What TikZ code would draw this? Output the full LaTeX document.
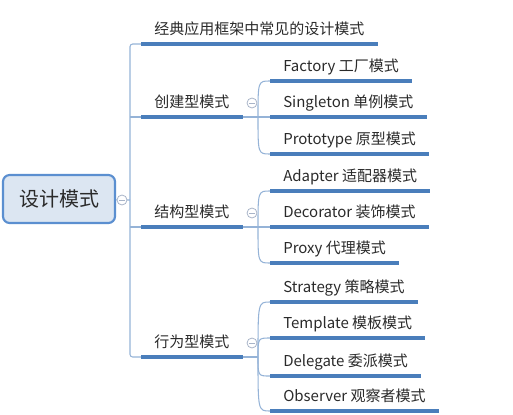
\documentclass[tikz,border=0pt]{standalone}
\usepackage{fontspec}
\setmainfont{Noto Sans CJK SC}
\definecolor{lineblue}{HTML}{4A7EBB}
\definecolor{thinblue}{HTML}{95B3D7}
\definecolor{rootfill}{HTML}{DCE6F2}
\definecolor{rootline}{HTML}{5B8FD0}
\definecolor{txtgray}{HTML}{2A2A2A}
\definecolor{foldgray}{HTML}{A8B4C8}
\tikzset{
	topic/.style={anchor=south west, inner xsep=9.75pt, inner ysep=5.2pt, text height=8pt, text depth=1.5pt, text=txtgray, font=\fontsize{11.25}{13}\selectfont},
	rootbox/.style={draw=rootline, fill=rootfill, line width=1.6pt, rounded corners=5pt, minimum width=84pt, minimum height=36pt, text=txtgray, font=\fontsize{15}{18}\selectfont},
	uline/.style={lineblue, line width=2.6pt},
	thin/.style={thinblue, line width=0.8pt},
	fold/.style={circle, draw=foldgray, fill=white, line width=0.6pt, minimum size=7.5pt, inner sep=0pt,
		path picture={\draw[foldgray, line width=0.6pt] ([xshift=-2pt]path picture bounding box.center) -- ([xshift=2pt]path picture bounding box.center);}}
}
\begin{document}
\begin{tikzpicture}[x=0.75pt, y=-0.75pt]
	\useasboundingbox (0, 0) rectangle (513, 414);
	% root and first level
	\node[rootbox] (root) at (59, 199) {设计模式};
	\coordinate (trunk) at (130, 200);
	\coordinate (hubx) at (258, 0);
	\node[topic] (classic) at (141, 44) {经典应用框架中常见的设计模式};
	\node[topic] (create) at (141, 117) {创建型模式};
	\node[topic] (struct) at (141, 227) {结构型模式};
	\node[topic] (behave) at (141, 357) {行为型模式};
	% second level
	\foreach \name/\y/\txt in {factory/81/Factory 工厂模式, singleton/117/Singleton 单例模式, prototype/154/Prototype 原型模式,
		adapter/191/Adapter 适配器模式, decorator/227/Decorator 装饰模式, proxy/263/Proxy 代理模式,
		strategy/302/Strategy 策略模式, template/338/Template 模板模式, delegate/376/Delegate 委派模式, observer/411/Observer 观察者模式}
		\node[topic] (\name) at (270, \y) {\txt};
	% connectors
	\draw[thin] (root) -- (trunk);
	\draw[thin, rounded corners=2pt] (classic.south west) -| (trunk) |- (behave.south west);
	\foreach \n in {create, struct}
		\draw[thin] (trunk |- \n.south west) -- (\n.south west);
	\foreach \p/\kids in {create/{factory, singleton, prototype}, struct/{adapter, decorator, proxy}, behave/{strategy, template, delegate, observer}}
	{
		\coordinate (\p hub) at (hubx |- \p.south east);
		\draw[thin] (\p.south east) -- (\p hub);
		\foreach \k in \kids
			\draw[thin] (\p hub) .. controls (\p hub |- \k.south west) .. (\k.south west);
	}
	\foreach \n in {classic, create, struct, behave, factory, singleton, prototype, adapter, decorator, proxy, strategy, template, delegate, observer}
		\draw[uline] (\n.south west) -- (\n.south east);
	% fold marks
	\node[fold] (rootfold) at (122, 200) {};
	\foreach \p in {create, struct, behave}
		\node[fold] (\p fold) at ([shift={(-4.5pt, 10.5pt)}]\p hub) {};
\end{tikzpicture}
\end{document}
